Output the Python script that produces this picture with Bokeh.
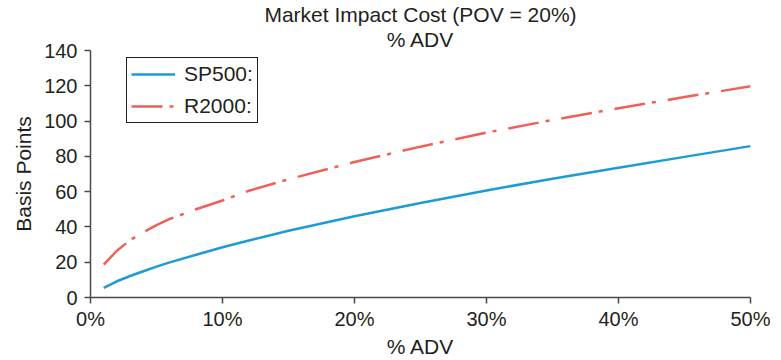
from bokeh.plotting import figure
from bokeh.models import Range1d, FixedTicker, Legend, LegendItem, ColumnDataSource, Title
from bokeh.embed import file_html
from bokeh.resources import INLINE

# ---- data ----
adv_pct = [1, 2, 3, 4, 5, 6, 8, 10, 12, 15, 20, 25, 30, 35, 40, 45, 50]
sp500 = [5.5, 9.2, 12.2, 14.9, 17.5, 19.9, 24.2, 28.5, 32.3, 37.8, 46.0, 53.6, 60.7, 67.3, 73.6, 79.7, 85.8]
r2000 = [18.6, 26.5, 32.5, 37.0, 41.0, 44.5, 50.0, 55.0, 60.5, 67.0, 76.8, 85.5, 93.5, 100.6, 107.3, 113.6, 119.7]
x_ticks = [0, 10, 20, 30, 40, 50]
x_tick_labels = ["0%", "10%", "20%", "30%", "40%", "50%"]
y_ticks = [0, 20, 40, 60, 80, 100, 120, 140]
title_line1 = "Market Impact Cost (POV = 20%)"
title_line2 = "% ADV"
x_label = "% ADV"
y_label = "Basis Points"
series_names = ["SP500:", "R2000:"]

FONT = "Liberation Sans"
TXT = "#231f20"
AXC = "#4a4a4a"
BLUE = "#1d9bd6"
RED = "#f05f58"

src = ColumnDataSource(dict(x=adv_pct, sp=sp500, r=r2000))

p = figure(width=781, height=360, output_backend="svg", toolbar_location=None,
           x_range=Range1d(0, 50), y_range=Range1d(0, 140),
           min_border_left=90, min_border_right=31, min_border_top=49, min_border_bottom=63)
p.outline_line_color = None
p.xgrid.visible = False
p.ygrid.visible = False
p.background_fill_color = "white"

for ax in (p.xaxis[0], p.yaxis[0]):
    ax.axis_line_color = AXC
    ax.axis_line_width = 1.5
    ax.major_tick_line_color = AXC
    ax.major_tick_line_width = 1.5
    ax.major_tick_in = 0
    ax.major_tick_out = 6
    ax.minor_tick_line_color = None
    ax.major_label_text_font = FONT
    ax.major_label_text_font_size = "20px"
    ax.major_label_text_color = TXT
    ax.axis_label_text_font = FONT
    ax.axis_label_text_font_size = "21px"
    ax.axis_label_text_font_style = "normal"
    ax.axis_label_text_color = TXT

p.xaxis.ticker = FixedTicker(ticks=x_ticks)
p.xaxis.major_label_overrides = {t: l for t, l in zip(x_ticks, x_tick_labels)}
p.xaxis.major_label_standoff = 4
p.xaxis.axis_label = x_label
p.xaxis.axis_label_standoff = 2
p.yaxis.ticker = FixedTicker(ticks=y_ticks)
p.yaxis.major_label_standoff = 7
p.yaxis.axis_label = y_label
p.yaxis.axis_label_standoff = 6

l1 = p.line("x", "sp", source=src, line_color=BLUE, line_width=2.5)
l2 = p.line("x", "r", source=src, line_color=RED, line_width=2.5, line_dash="31 7 4 12")

legend = Legend(items=[LegendItem(label=series_names[0], renderers=[l1]),
                       LegendItem(label=series_names[1], renderers=[l2])],
                location=(36, 174))
legend.border_line_color = TXT
legend.border_line_width = 1
legend.border_line_alpha = 1
legend.background_fill_alpha = 1
legend.label_text_font = FONT
legend.label_text_font_size = "21px"
legend.label_text_color = TXT
legend.glyph_width = 44
legend.glyph_height = 22
legend.label_height = 22
legend.label_standoff = 9
legend.padding = 4
legend.spacing = 8
legend.margin = 0
p.add_layout(legend)

p.title = None
t2 = Title(text=title_line2, align="center", text_font=FONT, text_font_size="21px",
           text_font_style="normal", text_color=TXT, standoff=0, text_line_height=0.9)
t1 = Title(text=title_line1, align="center", text_font=FONT, text_font_size="21px",
           text_font_style="normal", text_color=TXT, standoff=0, text_line_height=0.85)
p.add_layout(t2, "above")
p.add_layout(t1, "above")

open("out.html", "w").write(file_html(p, INLINE))
